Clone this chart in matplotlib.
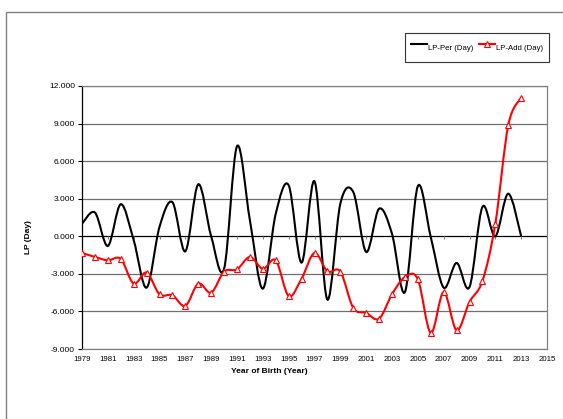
import numpy as np
import matplotlib.pyplot as plt
from matplotlib.path import Path
from matplotlib.patches import PathPatch, Rectangle
from matplotlib.lines import Line2D

plt.rcParams['font.family'] = ['Liberation Sans', 'DejaVu Sans']

# data
years = list(range(1979, 2014))
lp_per = [1.0, 1.9, -0.77, 2.56, -0.3, -4.1, 0.75, 2.72, -1.2, 4.15,
          0.0, -2.6, 7.19, 1.28, -4.18, 1.8, 4.07, -2.1, 4.39, -5.06,
          2.6, 3.54, -1.25, 2.2, 0.2, -4.45, 4.0, -0.05, -4.1, -2.13,
          -4.05, 2.34, 0.0, 3.4, 0.0]
lp_add = [-1.33, -1.65, -1.92, -1.81, -3.78, -2.9, -4.63, -4.71, -5.56, -3.78,
          -4.5, -2.82, -2.64, -1.65, -2.6, -1.92, -4.77, -3.38, -1.33, -2.8,
          -2.82, -5.72, -6.12, -6.58, -4.63, -3.25, -3.43, -7.72, -4.45, -7.5,
          -5.24, -3.57, 1.01, 8.87, 11.08]
y_ticks = [12, 9, 6, 3, 0, -3, -6, -9]
x_ticks = list(range(1979, 2016, 2))


def smooth_path(x, y):
    """Excel-style smoothed line: cubic Bezier through each point."""
    p = np.column_stack([x, y]).astype(float)
    n = len(p)
    verts = [p[0]]
    codes = [Path.MOVETO]
    for i in range(n - 1):
        p0 = p[i - 1] if i > 0 else p[i]
        p3 = p[i + 2] if i + 2 < n else p[i + 1]
        c1 = p[i] + (p[i + 1] - p0) / 6
        c2 = p[i + 1] - (p3 - p[i]) / 6
        verts += [c1, c2, p[i + 1]]
        codes += [Path.CURVE4] * 3
    return Path(verts, codes)


fig = plt.figure(figsize=(5.63, 4.19), dpi=100)
W, H = 563, 419

# chart area border
fig.patches.append(Rectangle((6 / W, -0.1), 1.0, 1.1 - 12 / H, transform=fig.transFigure,
                             fill=False, edgecolor='#808080', lw=1.0))

ax = fig.add_axes([82 / W, (H - 349) / H, (547 - 82) / W, (349 - 86) / H])
ax.set_xlim(1979, 2015)
ax.set_ylim(-9, 12)

for v in y_ticks:
    ax.axhline(v, color='#000000' if v == 0 else '#707070', lw=0.9, zorder=1)
ax.vlines(x_ticks, 0, -0.22, color='#808080', lw=0.8, zorder=1)

ax.add_patch(PathPatch(smooth_path(years, lp_per), fill=False, edgecolor='black', lw=1.5, zorder=3))
ax.add_patch(PathPatch(smooth_path(years, lp_add), fill=False, edgecolor='red', lw=1.5, zorder=3))
ax.plot(years, lp_add, linestyle='none', marker='^', ms=4.5, mfc='white', mec='red', mew=0.8, zorder=4)

ax.set_yticks(y_ticks)
ax.set_yticklabels([f"{v:.3f}" for v in y_ticks])
ax.set_xticks(x_ticks)
ax.tick_params(axis='y', labelsize=6, length=3, width=0.8, direction='out', pad=2)
ax.tick_params(axis='x', labelsize=5.6, length=0, pad=5)
for side in ['top', 'right', 'bottom']:
    ax.spines[side].set_color('#808080')
    ax.spines[side].set_linewidth(0.9)
ax.spines['left'].set_color('black')
ax.spines['left'].set_linewidth(0.9)

ax.set_xlabel("Year of Birth (Year)", fontsize=6, fontweight='bold')
ax.xaxis.set_label_coords(0.402, -0.072)
ax.set_ylabel("LP (Day)", fontsize=6, fontweight='bold')
ax.yaxis.set_label_coords(-0.108, 0.426)

handles = [Line2D([], [], color='black', lw=1.5),
           Line2D([], [], color='red', lw=1.5, marker='^', ms=4, mfc='white', mec='red', mew=0.8)]
leg = fig.legend(handles, ["LP-Per (Day)", "LP-Add (Day)"], loc='upper right',
                 bbox_to_anchor=(549 / W, 1 - 33 / H), ncol=2, fontsize=5.6,
                 frameon=True, fancybox=False, edgecolor='black', handlelength=2.1,
                 handleheight=3.3, handletextpad=0.15, columnspacing=0.7, borderpad=0.7,
                 borderaxespad=0)
leg.get_frame().set_linewidth(0.8)

fig.savefig("out.png", dpi=100)
